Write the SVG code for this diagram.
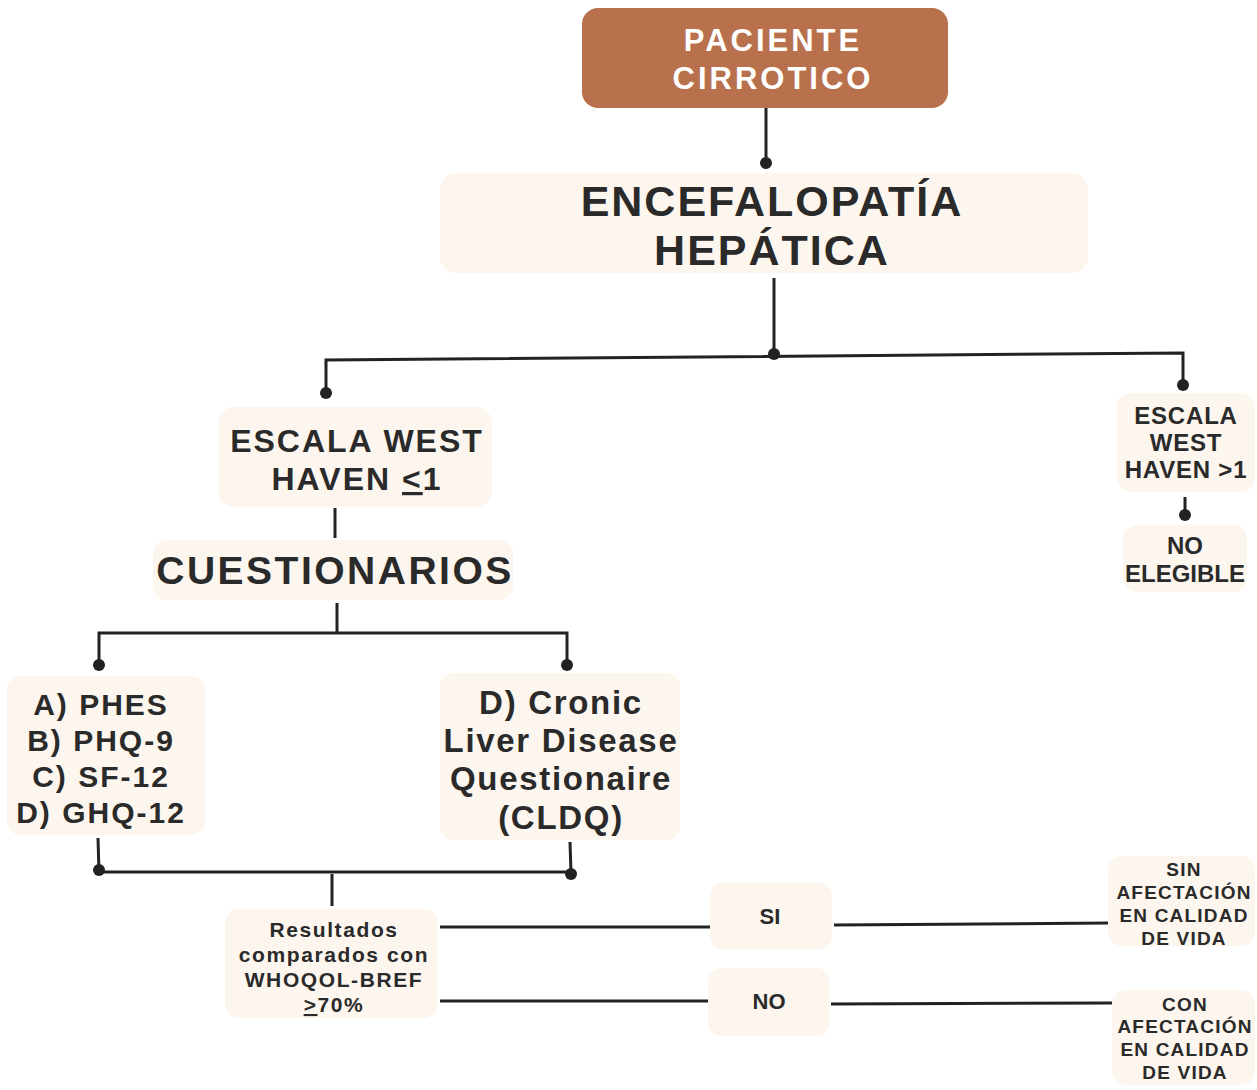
<svg xmlns="http://www.w3.org/2000/svg" width="1257" height="1090" viewBox="0 0 1257 1090">
<style>
.box{fill:#fdf6ef}
.t{font-family:"Liberation Sans",Arial,sans-serif;font-weight:bold;fill:#2a2a2a;text-anchor:middle}
.w{fill:#ffffff}
.ln{stroke:#222;stroke-width:3;fill:none}
.dot{fill:#222}
</style>
<rect width="1257" height="1090" fill="#ffffff"/>
<g id="connectors">
<path class="ln" d="M766 108 V163"/>
<circle class="dot" cx="766" cy="163" r="6"/>
<path class="ln" d="M774 278 V353"/>
<path class="ln" d="M326 393 V360 L1183 353 V385"/>
<circle class="dot" cx="774" cy="354" r="6"/>
<circle class="dot" cx="326" cy="393" r="6"/>
<circle class="dot" cx="1183" cy="385" r="6"/>
<path class="ln" d="M1185 497 V515"/>
<circle class="dot" cx="1185" cy="515" r="6"/>
<path class="ln" d="M335 508 V538"/>
<path class="ln" d="M337 603 V633"/>
<path class="ln" d="M99 665 V633 H567 V665"/>
<circle class="dot" cx="99" cy="665" r="6"/>
<circle class="dot" cx="567" cy="665" r="6"/>
<path class="ln" d="M98 838 L99 872 H571 L570 842"/>
<circle class="dot" cx="99" cy="870" r="6"/>
<circle class="dot" cx="571" cy="874" r="6"/>
<path class="ln" d="M332 874 V906"/>
<path class="ln" d="M440 927 H710"/>
<path class="ln" d="M834 925 L1110 923"/>
<path class="ln" d="M440 1001 H710"/>
<path class="ln" d="M831 1004 L1112 1003"/>
</g>
<g id="n_paciente">
<rect x="582" y="8" width="366" height="100" rx="16" fill="#b8714c"/>
<text class="t w" x="773" y="51" font-size="31" letter-spacing="3">PACIENTE</text>
<text class="t w" x="773" y="89" font-size="31" letter-spacing="3">CIRROTICO</text>
</g>
<g id="n_encefalopatia">
<rect class="box" x="440" y="173" width="648" height="100" rx="16"/>
<text class="t" x="772" y="216" font-size="43" letter-spacing="2">ENCEFALOPATÍA</text>
<text class="t" x="772" y="265" font-size="43" letter-spacing="2">HEPÁTICA</text>
</g>
<g id="n_west_le1">
<rect class="box" x="218" y="407" width="274" height="100" rx="16"/>
<text class="t" x="357" y="452" font-size="32" letter-spacing="2">ESCALA WEST</text>
<text class="t" x="357" y="490" font-size="32" letter-spacing="2">HAVEN <tspan text-decoration="underline">&lt;</tspan>1</text>
</g>
<g id="n_cuestionarios">
<rect class="box" x="153" y="540" width="360" height="60" rx="14"/>
<text class="t" x="335" y="584" font-size="39" letter-spacing="2.5">CUESTIONARIOS</text>
</g>
<g id="n_west_gt1">
<rect class="box" x="1117" y="393" width="138" height="99" rx="14"/>
<text class="t" x="1186" y="424" font-size="24" letter-spacing="0.8">ESCALA</text>
<text class="t" x="1186" y="451" font-size="24" letter-spacing="0.8">WEST</text>
<text class="t" x="1186" y="478" font-size="24" letter-spacing="0.8">HAVEN &gt;1</text>
</g>
<g id="n_no_elegible">
<rect class="box" x="1123" y="525" width="124" height="67" rx="14"/>
<text class="t" x="1185" y="554" font-size="24">NO</text>
<text class="t" x="1185" y="582" font-size="24">ELEGIBLE</text>
</g>
<g id="n_escalas">
<rect class="box" x="7" y="676" width="198" height="159" rx="14"/>
<text class="t" x="101" y="715" font-size="30" letter-spacing="2">A) PHES</text>
<text class="t" x="101" y="751" font-size="30" letter-spacing="2">B) PHQ-9</text>
<text class="t" x="101" y="787" font-size="30" letter-spacing="2">C) SF-12</text>
<text class="t" x="101" y="823" font-size="30" letter-spacing="2">D) GHQ-12</text>
</g>
<g id="n_cldq">
<rect class="box" x="440" y="673" width="240" height="167" rx="14"/>
<text class="t" x="561" y="714" font-size="33" letter-spacing="1.7">D) Cronic</text>
<text class="t" x="561" y="752" font-size="33" letter-spacing="1.7">Liver Disease</text>
<text class="t" x="561" y="790" font-size="33" letter-spacing="1.7">Questionaire</text>
<text class="t" x="561" y="829" font-size="33" letter-spacing="1.7">(CLDQ)</text>
</g>
<g id="n_resultados">
<rect class="box" x="225" y="909" width="213" height="109" rx="14"/>
<text class="t" x="334" y="937" font-size="21" letter-spacing="1.6">Resultados</text>
<text class="t" x="334" y="962" font-size="21" letter-spacing="1.6">comparados con</text>
<text class="t" x="334" y="987" font-size="21" letter-spacing="1.6">WHOQOL-BREF</text>
<text class="t" x="334" y="1012" font-size="21" letter-spacing="1.6"><tspan text-decoration="underline">&gt;</tspan>70%</text>
</g>
<g id="n_si">
<rect class="box" x="710" y="882" width="122" height="68" rx="14"/>
<text class="t" x="770" y="924" font-size="22">SI</text>
</g>
<g id="n_no">
<rect class="box" x="708" y="968" width="122" height="68" rx="14"/>
<text class="t" x="769" y="1009" font-size="22">NO</text>
</g>
<g id="n_sin">
<rect class="box" x="1108" y="856" width="147" height="90" rx="14"/>
<text class="t" x="1184" y="876" font-size="19" letter-spacing="1.2">SIN</text>
<text class="t" x="1184" y="899" font-size="19" letter-spacing="1.2">AFECTACIÓN</text>
<text class="t" x="1184" y="922" font-size="19" letter-spacing="1.2">EN CALIDAD</text>
<text class="t" x="1184" y="945" font-size="19" letter-spacing="1.2">DE VIDA</text>
</g>
<g id="n_con">
<rect class="box" x="1112" y="990" width="143" height="95" rx="14"/>
<text class="t" x="1185" y="1011" font-size="19" letter-spacing="1.2">CON</text>
<text class="t" x="1185" y="1033" font-size="19" letter-spacing="1.2">AFECTACIÓN</text>
<text class="t" x="1185" y="1056" font-size="19" letter-spacing="1.2">EN CALIDAD</text>
<text class="t" x="1185" y="1079" font-size="19" letter-spacing="1.2">DE VIDA</text>
</g>
</svg>
